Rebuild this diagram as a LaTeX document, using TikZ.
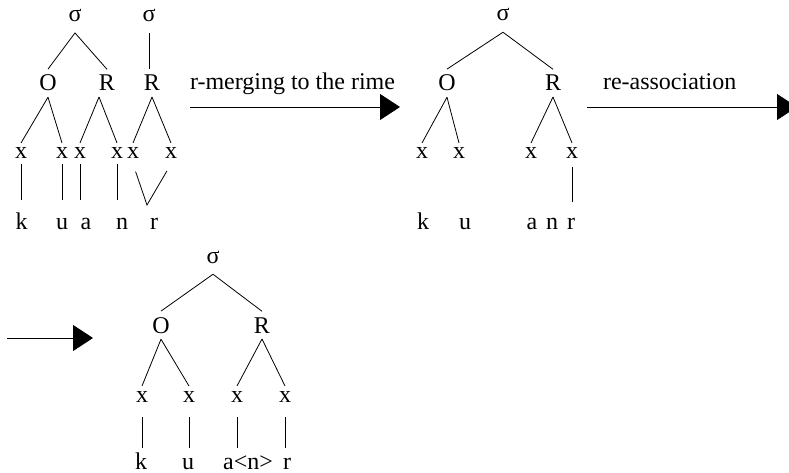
\documentclass[tikz,border=0pt]{standalone}
\usepackage{fontspec}
\setmainfont{Liberation Serif}
\usetikzlibrary{arrows.meta, positioning, calc}

\begin{document}
\begin{tikzpicture}[x=1pt, y=-1pt,
          tx/.style={font=\fontsize{24}{28}\selectfont,
                     inner sep=0pt, outer xsep=0pt,
                     anchor=base},
          syl/.style={tx, outer ysep=11pt},
          con/.style={tx, outer ysep=6pt},
          slot/.style={tx, outer ysep=5pt},
          seg/.style={tx, text height=16pt,
                      text depth=0pt, outer ysep=0pt},
          lab/.style={tx, anchor=base west},
          br/.style={line width=0.8pt},
          stepar/.style={line width=0.8pt,
                         -{Triangle[length=20pt, width=26pt]}},
      ]
      \useasboundingbox (0,0) rectangle (789,473);

      % first tree: two syllables
      \node[syl] (s1) at (75,21.7) {σ};
      \node[syl] (s2) at (149,21.7) {σ};
      \node[con] (o1) at (48,91) {O};
      \node[con] (r1) at (107,91) {R};
      \node[con] (r2) at (152,91) {R};
      \foreach \n/\px in {1/21, 2/62, 3/80, 4/117, 5/133, 6/171}
          \node[slot] (xa\n) at (\px,159) {x};
      \node[seg] (sk1) at (21.7,229) {k};
      \node[seg] (su1) at (62,229) {u};
      \node[seg] (sa1) at (86,229) {a};
      \node[seg] (sn1) at (122,229) {n};
      \node[seg] (sr1) at (154,229) {r};
      \coordinate (vt) at (147,205);

      \draw[br] (s1.south) -- (o1.north);
      \draw[br] (s1.south) -- (r1.north);
      \draw[br] (s2.south) -- (s2.south |- r2.north);
      \draw[br] (o1.south) -- (xa1.north);
      \draw[br] (o1.south) -- (xa2.north);
      \draw[br] (r1.south west) -- (xa3.north);
      \draw[br] (r1.south west) -- (xa4.north);
      \draw[br] (r2.south) -- (xa5.north);
      \draw[br] (r2.south) -- (xa6.north);
      \foreach \a/\b in {xa1/sk1, xa2/su1, xa3/sa1, xa4/sn1}
          \draw[br, shorten >=13pt] (\a.south) -- (\a.south |- \b.north);
      \draw[br, shorten <=8pt, shorten >=8pt]
          (xa5.south) -- (vt) -- (xa6.south);

      % r-merging step
      \coordinate (m1) at (190,107);
      \coordinate (m2) at (400,107);
      \draw[stepar] (m1) -- (m2);
      \node[lab] (l1) at (190,90) {r-merging to the rime};

      % second tree
      \node[syl] (s3) at (503,21) {σ};
      \node[con] (o2) at (447,91) {O};
      \node[con] (r3) at (553,91) {R};
      \foreach \n/\px in {1/422, 2/459, 3/531, 4/572}
          \node[slot] (xb\n) at (\px,159) {x};
      \node[seg] (sk2) at (423,229) {k};
      \node[seg] (su2) at (465,229) {u};
      \node[seg] (sa2) at (532,229) {a};
      \node[seg] (sn2) at (552,229) {n};
      \node[seg] (sr2) at (571,229) {r};

      \draw[br] (s3.south) -- (o2.north);
      \draw[br] (s3.south) -- (r3.north);
      \draw[br] (o2.south) -- (xb1.north);
      \draw[br] (o2.south) -- (xb2.north);
      \draw[br] (r3.south) -- (xb3.north);
      \draw[br] (r3.south) -- (xb4.north);
      \draw[br, shorten <=3pt, shorten >=11pt]
          (xb4.south) -- (xb4.south |- sr2.north);

      % re-association step
      \coordinate (m3) at (587,107);
      \coordinate (m4) at (797,107);
      \draw[stepar] (m3) -- (m4);
      \node[lab] (l2) at (603,90) {re-association};

      \coordinate (m5) at (7,338);
      \coordinate (m6) at (93,338);
      \draw[stepar] (m5) -- (m6);

      % third tree
      \node[syl] (s4) at (213,263) {σ};
      \node[con] (o3) at (161,333) {O};
      \node[con] (r4) at (262,333) {R};
      \foreach \n/\px in {1/142, 2/189, 3/237, 4/285}
          \node[slot] (xc\n) at (\px,402) {x};
      \node[seg] (sk3) at (141,469) {k};
      \node[seg] (su3) at (188,469) {u};
      \node[seg] (sa3) at (248,469) {a<n>};
      \node[seg] (sr3) at (287,469) {r};

      \draw[br] (s4.south) -- (o3.north);
      \draw[br] (s4.south) -- (r4.north);
      \draw[br] (o3.south) -- (xc1.north);
      \draw[br] (o3.south) -- (xc2.north);
      \draw[br] (r4.south) -- (xc3.north);
      \draw[br] (r4.south) -- (xc4.north);
      \foreach \a/\b in {xc1/sk3, xc2/su3, xc3/sa3, xc4/sr3}
          \draw[br, shorten <=10pt, shorten >=5pt]
              (\a.south) -- (\a.south |- \b.north);
      \end{tikzpicture}
\end{document}
